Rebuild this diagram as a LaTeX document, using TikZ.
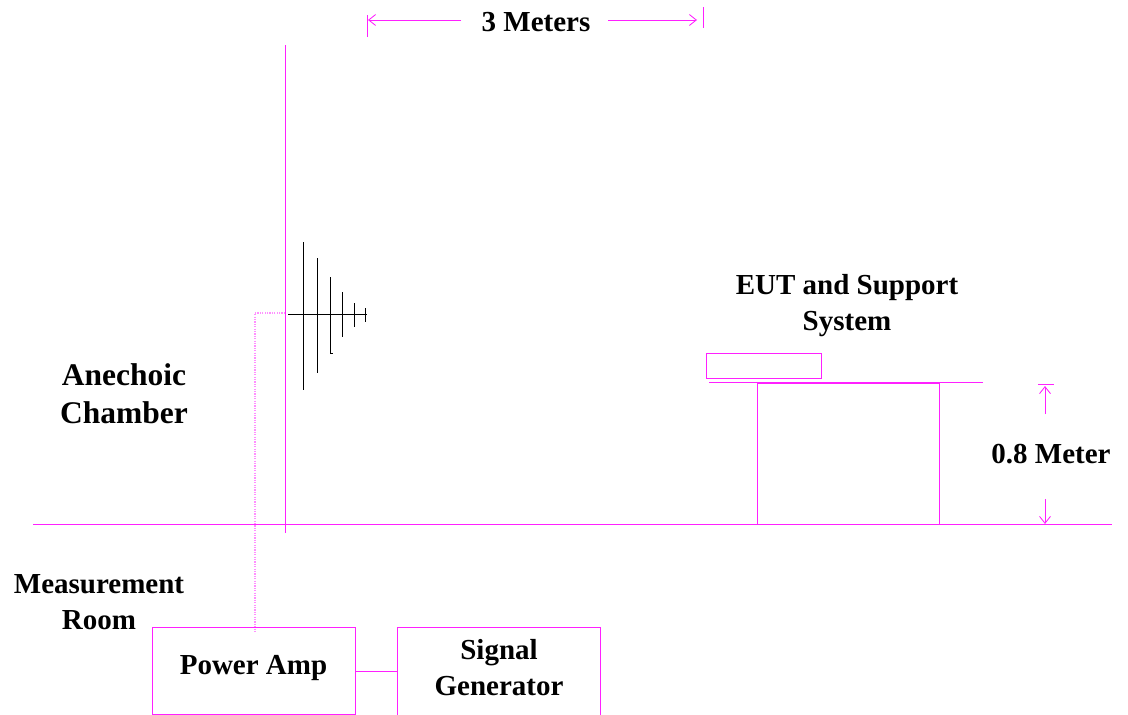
\documentclass[tikz,border=0pt]{standalone}
\usepackage{fontspec}
\setmainfont{Liberation Serif}
\usepackage{xcolor}
\usepackage{tikz}
\usetikzlibrary{arrows.meta,positioning,calc}
\definecolor{wallpink}{HTML}{FF20FF}
\definecolor{feedpink}{HTML}{FF90FF}
\begin{document}
\begin{tikzpicture}[x=1pt,y=-1pt,>={Straight Barb[length=7pt,width=11pt]},
   font=\bfseries\fontsize{29}{36}\selectfont,
   lb/.style={align=center,inner sep=0pt,text=black},
   bx/.style={rectangle,draw=wallpink,line width=0.95pt,inner sep=0pt,text=black,align=center},
   pk/.style={draw=wallpink,line width=0.95pt},
   thn/.style={draw=wallpink,line width=0.85pt},
   ant/.style={draw=black,line width=0.95pt}]
  \useasboundingbox (0,0) rectangle (1128,715);
  % floor and wall
  \coordinate (fl) at (33,524);
  \coordinate (fr) at (1112,524);
  \coordinate (wt) at (285.5,45);
  \coordinate (wb) at (285.5,533);
  \draw[pk] (fl)--(fr);
  \draw[pk] (wt)--(wb);
  % room labels
  \node[lb,font=\bfseries\fontsize{31.5}{38}\selectfont] (anechoic) at (124,394) {Anechoic\\Chamber};
  \node[lb] (room) at (99,602) {Measurement\\Room};
  % equipment
  \node[bx,minimum width=203pt,minimum height=87pt] (amp) at (253.5,670.5) {};
  \node[lb] (amplbl) at (253.5,668) {Power Amp};
  \node[bx,minimum width=203pt,minimum height=95pt] (gen) at (498.5,674.5) {};
  \node[lb] (genlbl) at (499,668) {Signal\\Generator};
  \coordinate (ampr) at (355,671);
  \coordinate (genl) at (397,671);
  \draw[pk] (ampr)--(genl);
  % dotted feed
  \coordinate (fa) at (285,313);
  \coordinate (fb) at (255,313);
  \coordinate (fc) at (255,632);
  \draw[draw=feedpink,line width=1.2pt,dash pattern=on 1.2pt off 1.2pt] (fa)--(fb)--(fc);
  % antenna
  \coordinate (a0) at (288,314);
  \coordinate (a1) at (367,314);
  \draw[ant] (a0)--(a1);
  \draw[ant] (303,242)--(303,390);
  \draw[ant] (317,258)--(317,373);
  \draw[ant] (330,277)--(330,353)--(333,353);
  \draw[ant] (342,292)--(342,337);
  \draw[ant] (354,303)--(354,327);
  \draw[ant] (365.5,308)--(365.5,322);
  % 3 m dimension
  \node[lb] (three) at (536,22) {3 Meters};
  \coordinate (ta) at (367,15);
  \coordinate (tb) at (367,37);
  \coordinate (tc) at (703,7);
  \coordinate (td) at (703,28);
  \coordinate (la) at (461,20);
  \coordinate (lb) at (368,20);
  \coordinate (ra) at (608,20);
  \coordinate (rb) at (697,20);
  \draw[thn] (ta)--(tb);
  \draw[thn] (tc)--(td);
  \draw[thn,->] (la)--(lb);
  \draw[thn,->] (ra)--(rb);
  % table with EUT
  \node[bx,minimum width=182pt,minimum height=141pt] (table) at (848,453.5) {};
  \node[bx,minimum width=115pt,minimum height=25pt] (eut) at (763.5,365.5) {};
  \node[lb] (eutlbl) at (847,306) {EUT and Support\\System};
  \coordinate (tl) at (709,382);
  \coordinate (tr) at (983,382);
  \draw[pk] (tl)--(tr);
  % 0.8 m dimension
  \node[lb] (meter) at (1051,454) {0.8 Meter};
  \coordinate (ma) at (1038,384);
  \coordinate (mb) at (1054,384);
  \coordinate (up) at (1045,414);
  \coordinate (upe) at (1045,386);
  \coordinate (dn) at (1045,499);
  \coordinate (dne) at (1045,524);
  \draw[pk] (ma)--(mb);
  \draw[thn,->] (up)--(upe);
  \draw[thn,->] (dn)--(dne);
\end{tikzpicture}
\end{document}
